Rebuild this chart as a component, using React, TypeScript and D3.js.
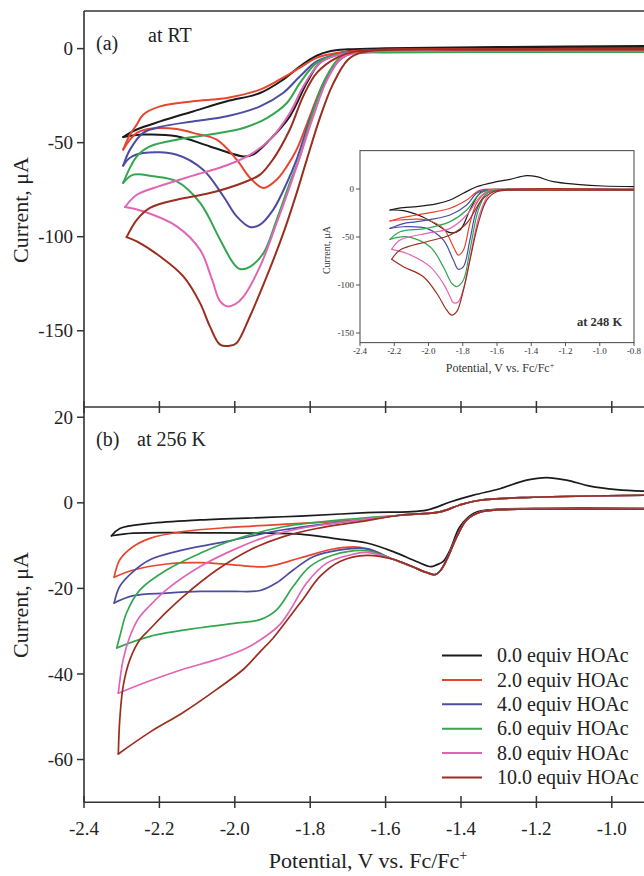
import * as d3 from "d3";

type Pt = [number, number];

// legend / series
const seriesLabels = [
  "0.0 equiv HOAc",
  "2.0 equiv HOAc",
  "4.0 equiv HOAc",
  "6.0 equiv HOAc",
  "8.0 equiv HOAc",
  "10.0 equiv HOAc",
];
const seriesColors = ["#1b1b1b", "#e8452f", "#4d4ca3", "#33a64f", "#e066b5", "#9b2e1e"];

// axis ticks
const potentialTicks = [-2.4, -2.2, -2.0, -1.8, -1.6, -1.4, -1.2, -1.0];
const rtCurrentTicks = [0, -50, -100, -150];
const k256CurrentTicks = [20, 0, -20, -40, -60];
const insetPotentialTicks = [-2.4, -2.2, -2.0, -1.8, -1.6, -1.4, -1.2, -1.0, -0.8];
const insetCurrentTicks = [0, -50, -100, -150];

// (a) at RT : [potential V, current uA], scan from right -> vertex -> back
const rtScan0: Pt[] = [
  [-0.88, 0.8], [-1.3, 0.2], [-1.6, -0.4], [-1.7, -1.4], [-1.73, -3.2], [-1.774, -7.4], [-1.809, -18.2],
  [-1.854, -36], [-1.907, -48.4], [-1.952, -56.4], [-1.978, -57.3], [-2.066, -52], [-2.154, -46.6],
  [-2.243, -45.7], [-2.296, -47],
  [-2.26, -43], [-2.198, -38.7], [-2.111, -33.4], [-2.021, -28], [-1.933, -23.6], [-1.872, -16.5],
  [-1.827, -9.4], [-1.783, -3.8], [-1.748, -1.4], [-1.7, -0.4], [-1.6, 0.2], [-1.3, 0.8], [-0.88, 1.4],
];
const rtScan2: Pt[] = [
  [-0.88, -0.4], [-1.3, -0.5], [-1.6, -0.7], [-1.68, -1.6], [-1.703, -3.2], [-1.73, -7.6], [-1.765, -18.2],
  [-1.801, -36], [-1.836, -53.7], [-1.862, -62.6], [-1.889, -69.7], [-1.924, -74.1], [-1.96, -68.6],
  [-1.995, -59], [-2.048, -48.4], [-2.111, -44.8], [-2.154, -42.7], [-2.225, -42.6], [-2.26, -44.8],
  [-2.278, -48.4], [-2.296, -53.7],
  [-2.278, -45.7], [-2.26, -40.4], [-2.243, -35.1], [-2.198, -30.7], [-2.111, -28], [-2.021, -26.2],
  [-1.933, -21.8], [-1.872, -15.4], [-1.827, -10.1], [-1.783, -4.9], [-1.73, -2.3], [-1.65, -0.9],
  [-1.3, -0.3], [-0.88, 0.1],
];
const rtScan4: Pt[] = [
  [-0.88, -0.8], [-1.3, -0.8], [-1.6, -1], [-1.694, -2.7], [-1.73, -7.4], [-1.765, -19.1], [-1.801, -37.8],
  [-1.836, -59], [-1.862, -71.4], [-1.898, -85.6], [-1.933, -93.6], [-1.96, -94.8], [-1.995, -89.2],
  [-2.03, -78.6], [-2.084, -64.4], [-2.154, -56.4], [-2.243, -55.5], [-2.278, -58], [-2.296, -62.2],
  [-2.278, -53.7], [-2.243, -44.8], [-2.198, -41.6], [-2.111, -38.7], [-2.021, -36], [-1.933, -30.7],
  [-1.872, -23.6], [-1.827, -14.7], [-1.783, -6.8], [-1.73, -3.2], [-1.65, -1.3], [-1.3, -0.7], [-0.88, -0.5],
];
const rtScan6: Pt[] = [
  [-0.88, -1.8], [-1.3, -1.8], [-1.6, -2], [-1.681, -2.4], [-1.721, -4.8], [-1.761, -16.5], [-1.795, -35],
  [-1.827, -57.3], [-1.854, -71.4], [-1.889, -91], [-1.924, -108.7], [-1.96, -116], [-1.986, -117.2],
  [-2.004, -114], [-2.039, -101.6], [-2.092, -82], [-2.154, -70.6], [-2.216, -67.9], [-2.269, -67],
  [-2.296, -71.4],
  [-2.26, -57.3], [-2.225, -52], [-2.154, -48.4], [-2.066, -45.7], [-1.977, -42.2], [-1.915, -36.9],
  [-1.862, -28.9], [-1.827, -18.2], [-1.783, -7.6], [-1.73, -3.2], [-1.65, -2], [-1.3, -1.8], [-0.88, -1.6],
];
const rtScan8: Pt[] = [
  [-0.88, -1], [-1.3, -1], [-1.6, -1.2], [-1.676, -2.1], [-1.716, -4.8], [-1.755, -16.5], [-1.793, -36.7],
  [-1.827, -57.3], [-1.854, -73.2], [-1.889, -92.7], [-1.933, -115.8], [-1.977, -131.8], [-2.0, -136],
  [-2.021, -137], [-2.04, -134], [-2.06, -123], [-2.092, -107], [-2.154, -94.5], [-2.243, -86.5],
  [-2.291, -84.2],
  [-2.26, -77.7], [-2.198, -73], [-2.111, -67.5], [-2.021, -62], [-1.96, -56.5], [-1.907, -48.4],
  [-1.854, -34.2], [-1.818, -20], [-1.774, -7.6], [-1.721, -3.2], [-1.65, -1.6], [-1.3, -1], [-0.88, -0.8],
];
const rtScan10: Pt[] = [
  [-0.88, -0.5], [-1.3, -0.5], [-1.6, -0.7], [-1.663, -2], [-1.7, -5.9], [-1.74, -19], [-1.774, -36.7],
  [-1.809, -59], [-1.836, -76.8], [-1.871, -98], [-1.915, -121], [-1.96, -142.4], [-1.995, -156.5],
  [-2.013, -158], [-2.039, -157.4], [-2.066, -147.7], [-2.092, -135.3], [-2.137, -121], [-2.198, -110.5],
  [-2.26, -102.5], [-2.287, -100.2],
  [-2.26, -91], [-2.225, -84.7], [-2.154, -80.3], [-2.066, -76.8], [-1.978, -71.3], [-1.933, -67],
  [-1.899, -59], [-1.854, -43], [-1.819, -25.5], [-1.782, -12.8], [-1.729, -4.8], [-1.681, -1.6],
  [-1.3, -0.5], [-0.88, -0.3],
];

// (b) at 256 K
const k256FwdTail: Pt[] = [
  [-0.88, -1.5], [-1.208, -1.5], [-1.297, -1.6], [-1.35, -2.2], [-1.385, -4], [-1.411, -7.9], [-1.438, -13.3],
  [-1.456, -16], [-1.469, -16.8], [-1.491, -16.3], [-1.53, -14.9], [-1.58, -13.2],
];
const k256RevTail: Pt[] = [
  [-1.562, -2.9], [-1.456, -2.1], [-1.403, -0.5], [-1.35, 0.6], [-1.208, 1.3], [-0.88, 1.8],
];
const k256Scan0: Pt[] = [
  [-0.88, -1.3], [-1.208, -1.3], [-1.332, -1.7], [-1.367, -2.5], [-1.403, -5.6], [-1.429, -11], [-1.447, -13.7],
  [-1.465, -14.5], [-1.48, -14.9], [-1.518, -13.7], [-1.58, -11.4], [-1.65, -9.4], [-1.739, -8.3],
  [-1.827, -7.3], [-1.915, -7.1], [-2.092, -7], [-2.269, -7.1], [-2.327, -7.7],
  [-2.305, -6], [-2.225, -4.8], [-2.092, -4], [-1.915, -3.4], [-1.827, -3.1], [-1.65, -2.3], [-1.491, -1.7],
  [-1.429, 0.2], [-1.367, 1.8], [-1.297, 3.3], [-1.226, 5.3], [-1.173, 5.9], [-1.12, 5.3], [-1.058, 3.9],
  [-0.987, 3.1], [-0.88, 2.6],
];
const k256Head2: Pt[] = [
  [-1.668, -10.4], [-1.739, -10.8], [-1.827, -12.9], [-1.915, -14.9], [-2.004, -14.5], [-2.092, -14],
  [-2.181, -14.3], [-2.269, -15.7], [-2.32, -17.4],
  [-2.305, -13.3], [-2.269, -10.2], [-2.225, -8.3], [-2.137, -6.7], [-2.004, -5.7], [-1.827, -4.8], [-1.668, -4],
];
const k256Head4: Pt[] = [
  [-1.65, -10.7], [-1.721, -11], [-1.792, -12.6], [-1.845, -15.7], [-1.889, -18.7], [-1.933, -20.5],
  [-2.004, -20.7], [-2.092, -20.7], [-2.181, -21.1], [-2.269, -21.7], [-2.32, -23.4],
  [-2.305, -19.5], [-2.269, -16], [-2.225, -13.3], [-2.137, -11], [-2.004, -8.7], [-1.871, -6.3], [-1.668, -4],
];
const k256Head6: Pt[] = [
  [-1.65, -11.2], [-1.739, -12.2], [-1.801, -14.9], [-1.845, -19.5], [-1.889, -25], [-1.933, -27.3],
  [-1.986, -28], [-2.092, -29.2], [-2.225, -31.2], [-2.313, -33.9],
  [-2.305, -31.2], [-2.287, -25.7], [-2.251, -20.3], [-2.181, -15.7], [-2.092, -11.8], [-2.004, -8.7],
  [-1.871, -5.6], [-1.668, -3.6],
];
const k256Head8: Pt[] = [
  [-1.65, -11.6], [-1.694, -12.2], [-1.756, -14.1], [-1.809, -18.7], [-1.854, -25.2], [-1.88, -28.4],
  [-1.92, -31.3], [-1.977, -34.3], [-2.048, -36.6], [-2.137, -38.9], [-2.225, -41.6], [-2.309, -44.5],
  [-2.296, -36.6], [-2.278, -31.2], [-2.255, -27], [-2.225, -24], [-2.181, -20.3], [-2.092, -14.9],
  [-2.004, -11], [-1.915, -7.9], [-1.827, -6], [-1.668, -4],
];
const k256Head10: Pt[] = [
  [-1.65, -12.3], [-1.721, -13.7], [-1.774, -17.2], [-1.818, -22.4], [-1.862, -27.5], [-1.898, -31.6],
  [-1.935, -35], [-1.977, -38.9], [-2.048, -43.6], [-2.137, -49], [-2.225, -53.6], [-2.309, -58.7],
  [-2.305, -50.5], [-2.296, -42.8], [-2.278, -36.6], [-2.251, -31.9], [-2.225, -29.5], [-2.181, -25.5],
  [-2.137, -21.9], [-2.048, -15.7], [-1.96, -11], [-1.871, -7.9], [-1.783, -6], [-1.668, -4.4],
];

// inset at 248 K
const insFwdTail: Pt[] = [[-0.78, -1.2], [-1.45, -1.2]];
const insRevTail: Pt[] = [[-1.55, -0.5], [-0.78, -0.5]];
const insScan0: Pt[] = [
  [-0.78, -0.8], [-1.3, -0.8], [-1.641, -1], [-1.7, -4.5], [-1.758, -21.9], [-1.816, -42.7], [-1.874, -45.5],
  [-1.933, -39.3], [-2.03, -29.5], [-2.147, -22.6], [-2.225, -21.9],
  [-2.147, -19.5], [-2.069, -18.4], [-1.955, -15.5], [-1.874, -11.5], [-1.797, -4.5], [-1.719, 2.4],
  [-1.602, 7.6], [-1.524, 10.1], [-1.427, 13.9], [-1.368, 12.8], [-1.271, 7.6], [-1.135, 4.9],
  [-0.979, 3.1], [-0.78, 2.4],
];
const insHead2: Pt[] = [
  [-1.6, -1.3], [-1.66, -2.8], [-1.719, -14.9], [-1.758, -35.7], [-1.796, -63.5], [-1.826, -68.8],
  [-1.855, -60.1], [-1.914, -41], [-2.011, -32.3], [-2.166, -32.3], [-2.225, -33.3],
  [-2.147, -29.5], [-2.069, -27.1], [-1.874, -20.1], [-1.777, -11.5], [-1.7, -1.5],
];
const insHead4: Pt[] = [
  [-1.6, -1.4], [-1.66, -4.5], [-1.719, -21.9], [-1.758, -53.1], [-1.796, -80.9], [-1.826, -83.6],
  [-1.855, -74], [-1.914, -53.1], [-2.011, -41], [-2.147, -39.3], [-2.225, -41],
  [-2.147, -36], [-2.069, -34], [-1.874, -27.1], [-1.777, -16.7], [-1.719, -4.5], [-1.66, -1],
];
const insHead6: Pt[] = [
  [-1.6, -1.4], [-1.66, -4.5], [-1.709, -21.9], [-1.758, -63.5], [-1.796, -94.8], [-1.835, -101.7],
  [-1.864, -98.3], [-1.914, -80.9], [-1.991, -60.1], [-2.128, -49.7], [-2.225, -52.4],
  [-2.166, -44.5], [-2.011, -41], [-1.874, -34], [-1.777, -21.9], [-1.709, -6.3], [-1.66, -1],
];
const insHead8: Pt[] = [
  [-1.58, -1.4], [-1.641, -4.5], [-1.7, -25.3], [-1.748, -63.5], [-1.787, -98.3], [-1.826, -117.4],
  [-1.855, -118.4], [-1.874, -112.2], [-1.914, -98.3], [-1.991, -80.9], [-2.128, -67], [-2.215, -62.8],
  [-2.166, -53.1], [-2.011, -46.2], [-1.874, -41], [-1.777, -27.1], [-1.7, -8], [-1.64, -1],
];
const insHead10: Pt[] = [
  [-1.54, -1.3], [-1.602, -2.8], [-1.66, -11.5], [-1.709, -35.7], [-1.758, -74], [-1.796, -105.2],
  [-1.835, -127.8], [-1.864, -131.3], [-1.894, -126], [-1.952, -108.6], [-2.03, -91.4], [-2.147, -80.9],
  [-2.215, -73.2],
  [-2.166, -63.5], [-2.011, -54.9], [-1.874, -47.9], [-1.777, -35.7], [-1.69, -11.5], [-1.622, -2.8],
];

const rtScans = [rtScan0, rtScan2, rtScan4, rtScan6, rtScan8, rtScan10];
const k256Scans = [
  k256Scan0,
  ...[k256Head2, k256Head4, k256Head6, k256Head8, k256Head10].map((h) => [...k256FwdTail, ...h, ...k256RevTail]),
];
const insScans = [
  insScan0,
  ...[insHead2, insHead4, insHead6, insHead8, insHead10].map((h) => [...insFwdTail, ...h, ...insRevTail]),
];

const FONT = "'Liberation Serif', 'Times New Roman', Times, serif";
const AXIS = "#333";

// split a cyclic scan at the switching potential so the vertex stays sharp
const splitScan = (pts: Pt[]): Pt[][] => {
  const k = d3.minIndex(pts, (d) => d[0]);
  return [pts.slice(0, k + 1), pts.slice(k)];
};

const fmt = (v: number) => v.toFixed(1);

const App = () => {
  const x = d3.scaleLinear().domain([-2.4, -0.9]).range([84, 649.5]);
  const yA = d3.scaleLinear().domain([-190, 20]).range([406, 11]);
  const yB = d3.scaleLinear().domain([-70, 22.4]).range([802.3, 407]);
  const xi = d3.scaleLinear().domain([-2.4, -0.8]).range([360, 634]);
  const yi = d3.scaleLinear().domain([-160, 40]).range([342.6, 150.6]);

  const mkLine = (sx: d3.ScaleLinear<number, number>, sy: d3.ScaleLinear<number, number>) =>
    d3
      .line<Pt>()
      .x((d) => sx(d[0]))
      .y((d) => sy(d[1]))
      .curve(d3.curveCatmullRom.alpha(0.5));
  const lineA = mkLine(x, yA);
  const lineB = mkLine(x, yB);
  const lineI = mkLine(xi, yi);

  const drawScans = (scans: Pt[][], ln: d3.Line<Pt>, width: number) =>
    scans.map((s, i) =>
      splitScan(s).map((part, j) => (
        <path
          key={i + "-" + j}
          d={ln(part) || ""}
          fill="none"
          stroke={seriesColors[i]}
          strokeWidth={width}
          strokeLinejoin="round"
          strokeLinecap="round"
        />
      ))
    );

  return (
    <svg
      width={644}
      height={876}
      style={{ position: "absolute", left: 0, top: 0, background: "#fff" }}
      fontFamily={FONT}
    >
      <defs>
        <clipPath id="clipA">
          <rect x={84} y={11} width={560} height={396} />
        </clipPath>
        <clipPath id="clipB">
          <rect x={84} y={407} width={560} height={396} />
        </clipPath>
        <clipPath id="clipI">
          <rect x={360} y={150.6} width={274} height={192} />
        </clipPath>
      </defs>

      {/* frame */}
      <line x1={84} x2={84} y1={11} y2={802.3} stroke={AXIS} strokeWidth={1.6} />
      <line x1={84} x2={644} y1={11} y2={11} stroke={AXIS} strokeWidth={1.6} />
      <line x1={84} x2={644} y1={407} y2={407} stroke={AXIS} strokeWidth={1.6} />
      <line x1={84} x2={644} y1={802.3} y2={802.3} stroke={AXIS} strokeWidth={1.6} />

      {/* x ticks */}
      {potentialTicks.map((t) => (
        <g key={"xt" + t}>
          <line x1={x(t)} x2={x(t)} y1={401} y2={413} stroke={AXIS} strokeWidth={1.5} />
          <line x1={x(t)} x2={x(t)} y1={796} y2={808} stroke={AXIS} strokeWidth={1.5} />
          <text x={x(t)} y={835} fontSize={19} textAnchor="middle" fill="#222">
            {fmt(t)}
          </text>
        </g>
      ))}

      {/* y ticks (a) */}
      {rtCurrentTicks.map((t) => (
        <g key={"ya" + t}>
          <line x1={77} x2={84} y1={yA(t)} y2={yA(t)} stroke={AXIS} strokeWidth={1.5} />
          <text x={73} y={yA(t)} dy="0.35em" fontSize={19} textAnchor="end" fill="#222">
            {t}
          </text>
        </g>
      ))}
      {/* y ticks (b) */}
      {k256CurrentTicks.map((t) => (
        <g key={"yb" + t}>
          <line x1={77} x2={84} y1={yB(t)} y2={yB(t)} stroke={AXIS} strokeWidth={1.5} />
          <text x={73} y={yB(t)} dy="0.35em" fontSize={19} textAnchor="end" fill="#222">
            {t}
          </text>
        </g>
      ))}

      {/* axis titles */}
      <text transform="translate(28,210) rotate(-90)" fontSize={22} textAnchor="middle" fill="#222">
        Current, μA
      </text>
      <text transform="translate(28,605) rotate(-90)" fontSize={22} textAnchor="middle" fill="#222">
        Current, μA
      </text>
      <text x={368} y={868} fontSize={22} textAnchor="middle" fill="#222">
        Potential, V vs. Fc/Fc
        <tspan dy={-8} fontSize={14}>
          +
        </tspan>
      </text>

      {/* panel labels */}
      <text x={96} y={50} fontSize={20} fill="#222">(a)</text>
      <text x={148} y={42} fontSize={20} fill="#222">at RT</text>
      <text x={96} y={446} fontSize={20} fill="#222">(b)</text>
      <text x={137} y={446} fontSize={20} fill="#222">at 256 K</text>

      {/* curves */}
      <g clipPath="url(#clipA)">{drawScans(rtScans, lineA, 2)}</g>
      <g clipPath="url(#clipB)">{drawScans(k256Scans, lineB, 1.7)}</g>

      {/* inset */}
      <rect x={360} y={150.6} width={274} height={192} fill="#fff" stroke="#555" strokeWidth={1.1} />
      <g clipPath="url(#clipI)">{drawScans(insScans, lineI, 1.2)}</g>
      {insetCurrentTicks.map((t) => (
        <g key={"yi" + t}>
          <line x1={356} x2={360} y1={yi(t)} y2={yi(t)} stroke="#555" strokeWidth={1} />
          <text x={354} y={yi(t)} dy="0.35em" fontSize={9} textAnchor="end" fill="#333">
            {t}
          </text>
        </g>
      ))}
      {insetPotentialTicks.map((t) => (
        <g key={"xi" + t}>
          <line x1={xi(t)} x2={xi(t)} y1={342.6} y2={346} stroke="#555" strokeWidth={1} />
          <text x={xi(t)} y={354} fontSize={9} textAnchor="middle" fill="#333">
            {fmt(t)}
          </text>
        </g>
      ))}
      <text transform="translate(330,250) rotate(-90)" fontSize={10} textAnchor="middle" fill="#333">
        Current, μA
      </text>
      <text x={500} y={372} fontSize={12} textAnchor="middle" fill="#333">
        Potential, V vs. Fc/Fc
        <tspan dy={-4} fontSize={8}>
          +
        </tspan>
      </text>
      <text x={577} y={326} fontSize={12.5} fontWeight="bold" fill="#333">
        at 248 K
      </text>

      {/* legend */}
      {seriesLabels.map((lab, i) => (
        <g key={lab} transform={`translate(0,${655.5 + i * 24.4})`}>
          <line x1={442} x2={482} y1={0} y2={0} stroke={seriesColors[i]} strokeWidth={2} />
          <text x={497} y={0} dy="0.33em" fontSize={20} fill="#222">
            {lab}
          </text>
        </g>
      ))}
    </svg>
  );
};

export default App;
